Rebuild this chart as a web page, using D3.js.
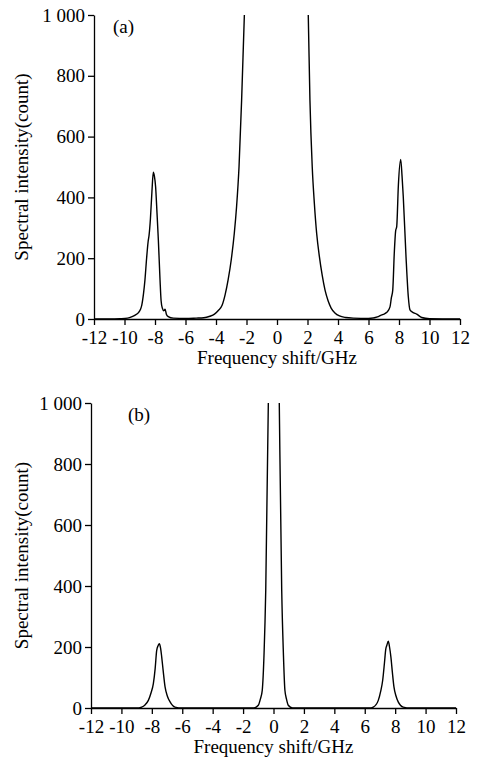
<!DOCTYPE html>
<html>
<head>
<meta charset="utf-8">
<script src="https://cdn.jsdelivr.net/npm/d3@7"></script>
<style>
  html, body { margin: 0; padding: 0; background: #fff; }
  svg text { font-family: "Liberation Serif", "Times New Roman", serif; fill: #000; }
  .axis path, .axis line { stroke: #000; stroke-width: 1.3px; }
  .axis text { font-size: 19px; }
  .line { fill: none; stroke: #000; stroke-width: 1.4px; stroke-linejoin: round; }
</style>
</head>
<body>
<div class="chartContainer"></div>
<script>
// TICKS
var xTicks = [-12, -10, -8, -6, -4, -2, 0, 2, 4, 6, 8, 10, 12]
var xTickLabels = ['-12', '-10', '-8', '-6', '-4', '-2', '0', '2', '4', '6', '8', '10', '12']
var yTicks = [0, 200, 400, 600, 800, 1000]
var yTickLabels = ['0', '200', '400', '600', '800', '1 000']

var xTitle = 'Frequency shift/GHz'
var yTitle = 'Spectral intensity(count)'

// PANEL (a) - frequency shift (GHz) and counts
var freqA = [-12, -11, -10.3, -9.8, -9.5, -9.3, -9.1, -8.95, -8.87, -8.75, -8.66, -8.55, -8.45, -8.39, -8.3, -8.2,
  -8.11, -8.04, -7.96, -7.87, -7.78, -7.67, -7.6, -7.52, -7.42, -7.34, -7.25, -7.13, -6.8, -6, -5.3, -4.8,
  -4.4, -4.1, -3.85, -3.6, -3.4, -3.2, -3.0, -2.8, -2.65, -2.49, -2.32, -2.14, -1.9, -1, 0, 1, 1.8,
  2.05, 2.16, 2.31, 2.45, 2.6, 2.78, 2.96, 3.15, 3.35, 3.55, 3.8, 4.1, 4.5, 5, 6, 6.64, 6.8, 6.97, 7.2, 7.41,
  7.5, 7.59, 7.69, 7.78, 7.85, 7.96, 8.11, 8.2, 8.28, 8.46, 8.61, 8.72, 8.9, 9.16, 9.49, 10, 12]
var countA = [0, 0, 1, 3, 8, 13, 20, 32, 45, 85, 128, 200, 255, 275, 330, 420,
  483, 470, 435, 350, 260, 128, 60, 36, 27, 32, 15, 8, 3, 2, 3, 4,
  9, 16, 28, 45, 80, 130, 195, 282, 370, 501, 720, 1000, 1300, 2500, 3000, 2500, 1300,
  1000, 720, 501, 380, 282, 205, 145, 95, 60, 36, 20, 10, 5, 3, 2, 8, 12, 15, 22, 40,
  70, 95, 216, 290, 304, 441, 525, 470, 402, 205, 73, 30, 22, 16, 5, 1, 0]

// PANEL (b)
var freqB = [-12, -9, -8.67, -8.45, -8.23, -8.05, -7.9, -7.78, -7.68, -7.58, -7.51, -7.42, -7.35, -7.25, -7.13, -6.97,
  -6.8, -6.48, -6, -1.3, -1.0, -0.86, -0.74, -0.62, -0.51, -0.34, -0.2, 0.02, 0.2, 0.38, 0.54,
  0.65, 0.75, 0.86, 0.97, 1.25, 6.3, 6.56, 6.89, 7.05, 7.18, 7.3, 7.38, 7.45, 7.55, 7.63,
  7.72, 7.82, 7.92, 8.05, 8.2, 8.53, 9, 12]
var countB = [0, 0, 3, 10, 25, 50, 80, 130, 189, 205, 211, 195, 167, 120, 69, 38,
  20, 3, 0, 0, 9, 30, 58, 180, 386, 1000, 1800, 2500, 1800, 1000, 386,
  180, 58, 28, 9, 0, 0, 3, 25, 55, 91, 150, 192, 205, 219, 200,
  167, 115, 69, 40, 20, 3, 0, 0]

var svg = d3
  .select('div.chartContainer')
  .append('svg')
  .attr('width', 478)
  .attr('height', 760)

function drawPanel(id, tag, freq, count, box) {
  var data = freq.map(function(f, i) { return { f: f, v: count[i] } })
  var width = box.right - box.left
  var height = box.bottom - box.top

  var g = svg.append('g').attr('transform', 'translate(' + box.left + ',' + box.top + ')')

  // SCALES
  var x = d3.scaleLinear().domain([-12, 12]).range([0, width])
  var y = d3.scaleLinear().domain([0, 1000]).range([height, 0])

  // CLIP (central peaks run off the top)
  g.append('clipPath')
    .attr('id', 'clip-' + id)
    .append('rect')
    .attr('x', 0)
    .attr('y', 0)
    .attr('width', width + 1)
    .attr('height', height)

  var valueline = d3
    .line()
    .x(function(d) { return x(d.f) })
    .y(function(d) { return y(d.v) })
    .curve(d3.curveMonotoneX)

  g.append('path')
    .datum(data)
    .attr('class', 'line')
    .attr('clip-path', 'url(#clip-' + id + ')')
    .attr('d', valueline)

  // X-AXIS
  g.append('g')
    .attr('class', 'axis')
    .attr('transform', 'translate(0,' + height + ')')
    .call(
      d3.axisBottom(x)
        .tickValues(xTicks)
        .tickFormat(function(d, i) { return xTickLabels[i] })
        .tickSize(6)
        .tickSizeOuter(0)
        .tickPadding(6)
    )

  // Y-AXIS
  g.append('g')
    .attr('class', 'axis')
    .call(
      d3.axisLeft(y)
        .tickValues(yTicks)
        .tickFormat(function(d, i) { return yTickLabels[i] })
        .tickSize(6)
        .tickSizeOuter(0)
        .tickPadding(3)
    )

  // AXIS TITLES
  g.append('text')
    .attr('x', width / 2)
    .attr('y', height + 45)
    .attr('font-size', 19)
    .style('text-anchor', 'middle')
    .text(xTitle)

  g.append('text')
    .attr('transform', 'translate(' + (28 - box.left) + ',' + height / 2 + ') rotate(-90)')
    .attr('font-size', 19)
    .style('text-anchor', 'middle')
    .text(yTitle)

  // PANEL TAG
  g.append('text')
    .attr('x', box.tagX)
    .attr('y', box.tagY)
    .attr('font-size', 19)
    .text(tag)
}

drawPanel('a', '(a)', freqA, countA, { left: 94, right: 460, top: 15, bottom: 319, tagX: 19, tagY: 18 })
drawPanel('b', '(b)', freqB, countB, { left: 91, right: 456, top: 403, bottom: 708, tagX: 37, tagY: 18 })
</script>
</body>
</html>
